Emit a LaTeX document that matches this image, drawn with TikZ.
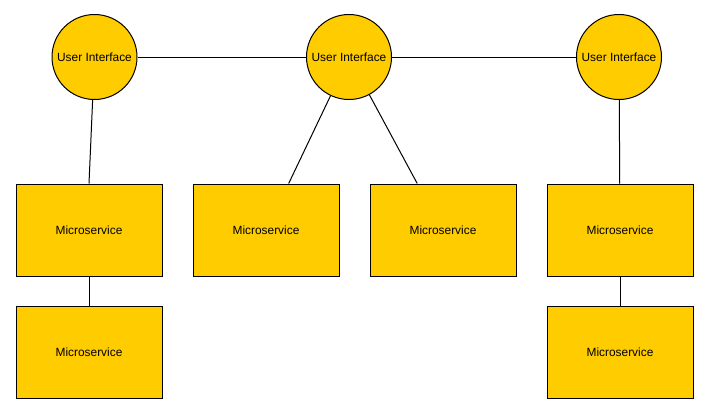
\documentclass[tikz,border=0pt]{standalone}
\usepackage{fontspec}
\setmainfont{Liberation Sans}
\usepackage{tikz}
\usepackage{xcolor}
\definecolor{uiyellow}{HTML}{FFCC00}

\begin{document}
\begin{tikzpicture}[x=1pt, y=1pt, line width=1pt,
	uinode/.style={circle, draw, fill=uiyellow, minimum size=85pt, inner sep=0pt, font=\fontsize{11.9}{14}\selectfont},
	msbox/.style={rectangle, draw, fill=uiyellow, minimum width=146pt, minimum height=92pt, inner sep=0pt, font=\fontsize{11.9}{14}\selectfont}]

	\useasboundingbox (0,0) rectangle (708,-413);

	% user interfaces
	\node[uinode] (ui1) at (94.5,-57) {User Interface};
	\node[uinode] (ui2) at (349,-57) {User Interface};
	\node[uinode] (ui3) at (619,-57) {User Interface};

	% microservices
	\node[msbox] (ms1) at (89,-230) {Microservice};
	\node[msbox] (ms2) at (266,-230) {Microservice};
	\node[msbox] (ms3) at (443,-230) {Microservice};
	\node[msbox] (ms4) at (620,-230) {Microservice};
	\node[msbox] (ms5) at (89,-352) {Microservice};
	\node[msbox] (ms6) at (620,-352) {Microservice};

	\draw (ui1) -- (ui2) -- (ui3);
	\draw (ui1) -- (ms1.north);
	\draw (ui2) -- (ms2.64);
	\draw (ui2) -- (ms3.119.5);
	\draw (ui3) -- (ms4);
	\draw (ms1) -- (ms5);
	\draw (ms4) -- (ms6);
\end{tikzpicture}
\end{document}
